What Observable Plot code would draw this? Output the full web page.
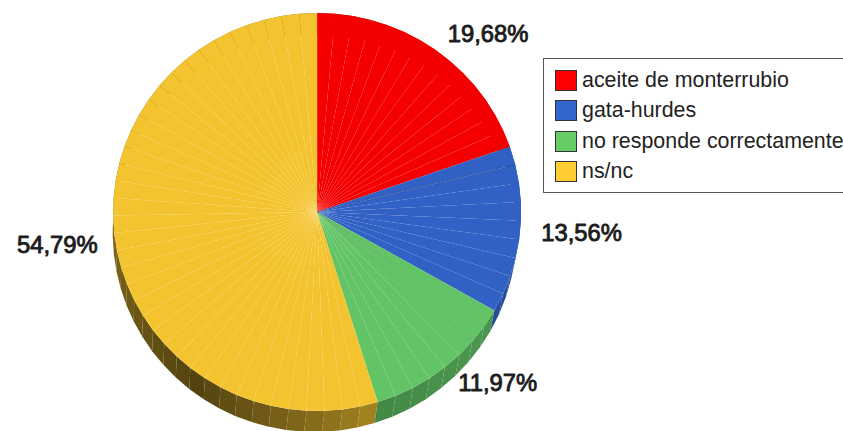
<!DOCTYPE html>
<html>
<head>
<meta charset="utf-8">
<script src="https://cdn.jsdelivr.net/npm/d3@7"></script>
<script src="https://cdn.jsdelivr.net/npm/@observablehq/plot@0.6"></script>
<style>
  html, body { margin: 0; padding: 0; background: #fff; overflow: hidden; }
  #chart { position: relative; width: 843px; height: 431px; font-family: "Liberation Sans", Arial, sans-serif; }
  #key { position: absolute; left: 543px; top: 58px; width: 310px; height: 133px; border: 1px solid #555; box-sizing: content-box; background: #fff; }
  #key .row { position: absolute; left: 11px; height: 21px; display: flex; align-items: center; font-size: 21.4px; color: #222; white-space: nowrap; }
  #key .chip { width: 20px; height: 19px; border: 1px solid #333; margin-right: 5px; flex: none; }
</style>
</head>
<body>
<div id="chart"></div>
<script>
// Survey answers, in percent, clockwise from twelve o'clock
const categories = ["aceite de monterrubio", "gata-hurdes", "no responde correctamente", "ns/nc"];
const shares = [19.68, 13.56, 11.97, 54.79];
const sliceCounts = [14, 9, 8, 39];
const darkSeams = [0, 1, 2, 0]; // leading slice edges drawn darker in each group
const faceColors = ["#f40000", "#3161c4", "#62c466", "#f4c430"];
const keyColors = ["#ff0000", "#3366cc", "#66cc66", "#ffcc33"];

const W = 843, H = 431;
const cx = 316.6, cy = 211.5, rx = 204, ry = 199; // pie centre and radii, pixels
const depth = 21 / ry; // thickness of the disc, in radius units

const rim = (deg, k = 1) => ({
  x: k * Math.sin(deg * Math.PI / 180),
  y: k * Math.cos(deg * Math.PI / 180)
});

// Brightness of the side wall by compass angle of its facet
const wallShade = d3.scaleLinear()
  .domain([90, 130, 160, 180, 215, 265, 280])
  .range([0.8, 0.76, 0.7, 0.55, 0.34, 0.52, 0.55])
  .clamp(true);

const faces = [], walls = [], labels = [], seams = [];
let start = 0;
categories.forEach((category, i) => {
  const sweep = shares[i] * 3.6;
  const step = sweep / sliceCounts[i];
  for (let s = 0; s < sliceCounts[i]; s++) {
    const a0 = start + s * step, a1 = a0 + step;
    const id = `${i}-${s}`;
    for (const p of [{x: 0, y: 0}, rim(a0), rim(a1)]) faces.push({id, category, ...p});
    const base = d3.rgb(faceColors[i]);
    const k = wallShade((a0 + a1) / 2);
    const fill = d3.rgb(base.r * k, base.g * k, base.b * k).formatHex();
    const e0 = rim(a0), e1 = rim(a1);
    // The lower edge of the wall recedes a little, as seen in perspective
    const low = e => ({x: e.x * 0.99 - 0.012, y: e.y - depth});
    for (const p of [e0, e1, low(e1), low(e0)]) walls.push({id, fill, ...p});
    if (s >= 1 && s <= darkSeams[i]) seams.push(rim(a0));
  }
  const mid = rim(start + sweep / 2, 1.1);
  labels.push({...mid, text: shares[i].toFixed(2).replace(".", ",") + "%", anchor: mid.x > 0 ? "start" : "end"});
  start += sweep;
});

const chart = Plot.plot({
  width: W,
  height: H,
  margin: 0,
  x: {domain: [-cx / rx, (W - cx) / rx], range: [0, W], axis: null},
  y: {domain: [(cy - H) / ry, cy / ry], range: [H, 0], axis: null},
  color: {domain: categories, range: faceColors},
  style: {background: "transparent"},
  marks: [
    Plot.line(walls, {x: "x", y: "y", z: "id", fill: {value: d => d.fill, scale: null}, stroke: "none"}),
    Plot.line(faces, {x: "x", y: "y", z: "id", fill: "category", stroke: "none"}),
    Plot.link(seams, {x1: () => 0, y1: () => 0, x2: "x", y2: "y", stroke: "#333", strokeOpacity: 0.35, strokeWidth: 0.6}),
    ...["start", "end"].map(textAnchor => Plot.text(labels.filter(d => d.anchor === textAnchor), {
      x: "x", y: "y", text: "text", textAnchor,
      dy: textAnchor === "end" ? 0.4 : 1.2,
      dx: textAnchor === "end" ? 2.4 : 0.6,
      fontFamily: "Liberation Sans", fontSize: 23.8,
      fill: "#1c1c1c", stroke: "#1c1c1c", strokeWidth: 0.9
    }))
  ]
});
document.getElementById("chart").append(chart);

// Key beside the pie
const key = document.createElement("div");
key.id = "key";
categories.forEach((name, i) => {
  const row = document.createElement("div");
  row.className = "row";
  row.style.top = `${11 + i * 30.4}px`;
  const chip = document.createElement("span");
  chip.className = "chip";
  chip.style.background = keyColors[i];
  const text = document.createElement("span");
  text.textContent = name;
  row.append(chip, text);
  key.append(row);
});
document.getElementById("chart").append(key);
</script>
</body>
</html>
